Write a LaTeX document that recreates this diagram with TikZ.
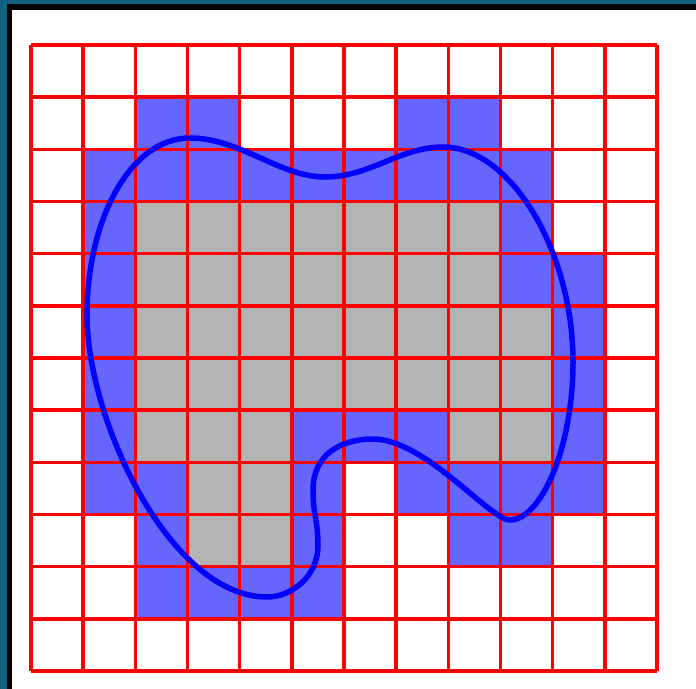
\documentclass[tikz,border=0pt]{standalone}
\usepackage{tikz}
\definecolor{frameteal}{RGB}{14,99,131}
\definecolor{cellblue}{RGB}{102,102,255}
\definecolor{cellgray}{RGB}{179,179,179}
\tikzset{
  bluecell/.style={fill=cellblue},
  graycell/.style={fill=cellgray},
  gridline/.style={draw=red,line width=3.5bp},
  curveline/.style={draw=blue,line width=5.5bp}
}
\begin{document}
\begin{tikzpicture}[x=1bp,y=-1bp]
\useasboundingbox (0,0) rectangle (696,689);
\fill[frameteal] (0,0) rectangle (696,689);
\fill[black] (7,4) rectangle (696,689);
\fill[white] (12,10) rectangle (696,689);
\begin{scope}[shift={(31,45)},x=52.1667bp,y=-52.1667bp]
  \foreach \c/\r in {2/1,3/1,7/1,8/1,
    1/2,2/2,3/2,4/2,5/2,6/2,7/2,8/2,9/2,
    1/3,9/3, 1/4,9/4,10/4, 1/5,10/5, 1/6,10/6,
    1/7,5/7,6/7,7/7,10/7,
    1/8,2/8,5/8,7/8,8/8,9/8,10/8,
    2/9,5/9,8/9,9/9,
    2/10,3/10,4/10,5/10}
    \path[bluecell] (\c,\r) rectangle ++(1,1);
  \foreach \c/\r in {2/3,3/3,4/3,5/3,6/3,7/3,8/3,
    2/4,3/4,4/4,5/4,6/4,7/4,8/4,
    2/5,3/5,4/5,5/5,6/5,7/5,8/5,9/5,
    2/6,3/6,4/6,5/6,6/6,7/6,8/6,9/6,
    2/7,3/7,4/7,8/7,9/7,
    3/8,4/8, 3/9,4/9}
    \path[graycell] (\c,\r) rectangle ++(1,1);
  \foreach \i in {0,...,12} {
    \draw[gridline] (\i,0) -- (\i,12);
    \draw[gridline] (0,\i) -- (12,\i);
  }
\end{scope}
\coordinate (k1) at (190,138);
\coordinate (k2) at (325,177);
\coordinate (k3) at (443,147);
\coordinate (k4) at (573,362);
\coordinate (k5) at (510,520);
\coordinate (k6) at (373,439);
\coordinate (k7) at (313,490);
\coordinate (k8) at (318,545);
\coordinate (k9) at (267,597);
\coordinate (k10) at (87,315);
\draw[curveline]
  (k1) .. controls (240,138) and (280,177) .. (k2)
       .. controls (370,177) and (400,147) .. (k3)
       .. controls (510,147) and (573,250) .. (k4)
       .. controls (573,450) and (540,520) .. (k5)
       .. controls (490,520) and (425,439) .. (k6)
       .. controls (340,439) and (313,455) .. (k7)
       .. controls (313,515) and (318,520) .. (k8)
       .. controls (318,578) and (290,597) .. (k9)
       .. controls (170,597) and (87,420) .. (k10)
       .. controls (87,220) and (130,138) .. (k1) -- cycle;
\end{tikzpicture}
\end{document}
